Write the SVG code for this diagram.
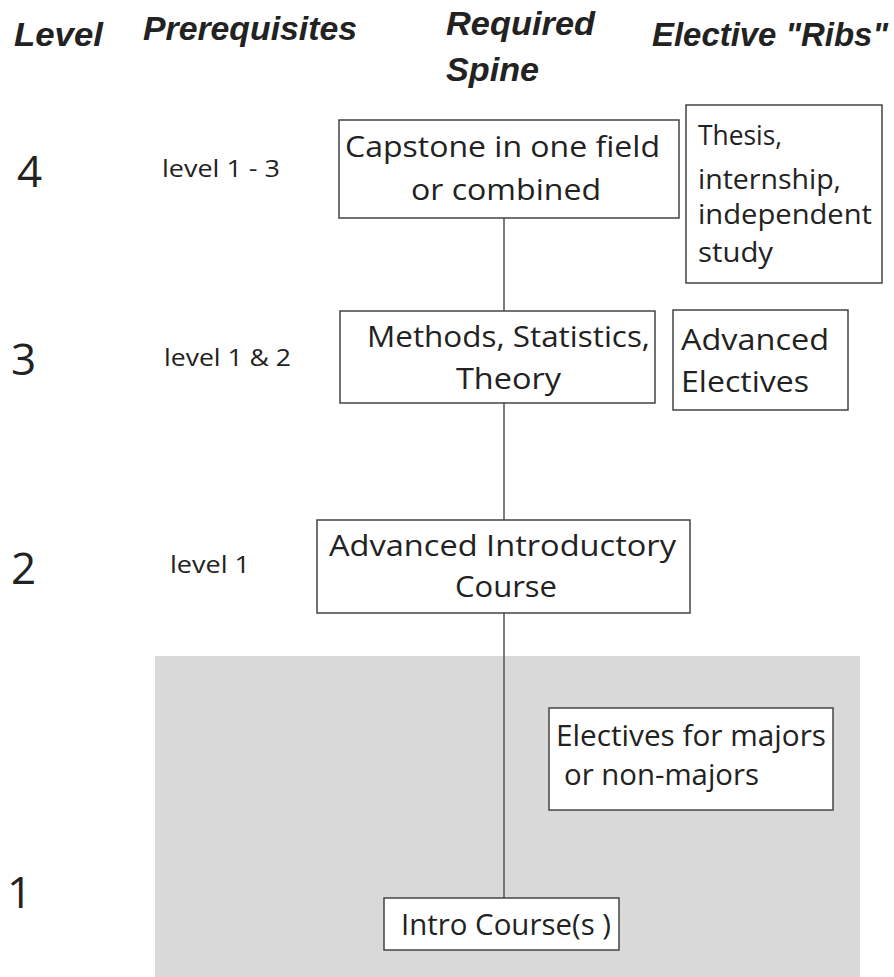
<svg xmlns="http://www.w3.org/2000/svg" width="894" height="977" viewBox="0 0 894 977">
<style>
.hd{font-family:"Liberation Sans",Arial,sans-serif;font-weight:bold;font-style:italic;font-size:34px;fill:#222}
.lv{font-family:"Open Sans","Liberation Sans",sans-serif;font-size:44px;fill:#222}
.pr{font-family:"Open Sans","Liberation Sans",sans-serif;font-size:24px;fill:#222}
.bx{fill:#fff;stroke:#444;stroke-width:1.5}
.tx{font-family:"Open Sans","Liberation Sans",sans-serif;font-size:30px;fill:#222}
.conn{stroke:#555;stroke-width:1.5;fill:none}
</style>
<rect width="894" height="977" fill="#fff"/>
<rect x="155" y="656" width="705" height="321" fill="#d9d9d9"/>
<g id="headers">
<text class="hd" x="14" y="46" textLength="89" lengthAdjust="spacingAndGlyphs">Level</text>
<text class="hd" x="143" y="40" textLength="214" lengthAdjust="spacingAndGlyphs">Prerequisites</text>
<text class="hd" x="446" y="35" textLength="149" lengthAdjust="spacingAndGlyphs">Required</text>
<text class="hd" x="446" y="81" textLength="93" lengthAdjust="spacingAndGlyphs">Spine</text>
<text class="hd" x="652" y="46" textLength="236" lengthAdjust="spacingAndGlyphs">Elective "Ribs"</text>
</g>
<g id="levels">
<text class="lv" x="17" y="187">4</text>
<text class="lv" x="11" y="375">3</text>
<text class="lv" x="11" y="584">2</text>
<text class="lv" x="7" y="908">1</text>
</g>
<g id="prereqs">
<text class="pr" x="162" y="177" textLength="118" lengthAdjust="spacingAndGlyphs">level 1 - 3</text>
<text class="pr" x="164" y="366" textLength="127" lengthAdjust="spacingAndGlyphs">level 1 &amp; 2</text>
<text class="pr" x="170" y="573" textLength="80" lengthAdjust="spacingAndGlyphs">level 1</text>
</g>
<g id="connectors">
<line class="conn" x1="504" y1="218" x2="504" y2="311"/>
<line class="conn" x1="504" y1="403" x2="504" y2="520"/>
<line class="conn" x1="504" y1="613" x2="504" y2="898"/>
</g>
<g id="capstone">
<rect class="bx" x="339" y="120" width="340" height="98"/>
<text class="tx" x="345" y="157" textLength="315" lengthAdjust="spacingAndGlyphs">Capstone in one field</text>
<text class="tx" x="411" y="200" textLength="190" lengthAdjust="spacingAndGlyphs">or combined</text>
</g>
<g id="thesis">
<rect class="bx" x="686" y="105" width="196" height="178"/>
<text class="tx" x="698" y="145" style="font-size:27px" textLength="84" lengthAdjust="spacingAndGlyphs">Thesis,</text>
<text class="tx" x="698" y="189" style="font-size:27px" textLength="143" lengthAdjust="spacingAndGlyphs">internship,</text>
<text class="tx" x="698" y="224" style="font-size:27px" textLength="174" lengthAdjust="spacingAndGlyphs">independent</text>
<text class="tx" x="698" y="262" style="font-size:27px" textLength="75" lengthAdjust="spacingAndGlyphs">study</text>
</g>
<g id="methods">
<rect class="bx" x="340" y="311" width="315" height="92"/>
<text class="tx" x="367" y="347" textLength="283" lengthAdjust="spacingAndGlyphs">Methods, Statistics,</text>
<text class="tx" x="456" y="389" textLength="105" lengthAdjust="spacingAndGlyphs">Theory</text>
</g>
<g id="advanced-electives">
<rect class="bx" x="673" y="310" width="175" height="100"/>
<text class="tx" x="681" y="350" textLength="148" lengthAdjust="spacingAndGlyphs">Advanced</text>
<text class="tx" x="681" y="392" textLength="128" lengthAdjust="spacingAndGlyphs">Electives</text>
</g>
<g id="advanced-intro">
<rect class="bx" x="317" y="520" width="373" height="93"/>
<text class="tx" x="329" y="556" textLength="347" lengthAdjust="spacingAndGlyphs">Advanced Introductory</text>
<text class="tx" x="455" y="597" textLength="102" lengthAdjust="spacingAndGlyphs">Course</text>
</g>
<g id="electives-majors">
<rect class="bx" x="549" y="708" width="284" height="102"/>
<text class="tx" x="556" y="746" textLength="270" lengthAdjust="spacingAndGlyphs">Electives for majors</text>
<text class="tx" x="564" y="785" textLength="195" lengthAdjust="spacingAndGlyphs">or non-majors</text>
</g>
<g id="intro">
<rect class="bx" x="384" y="898" width="235" height="52"/>
<text class="tx" x="401" y="935" textLength="210" lengthAdjust="spacingAndGlyphs">Intro Course(s )</text>
</g>
</svg>
